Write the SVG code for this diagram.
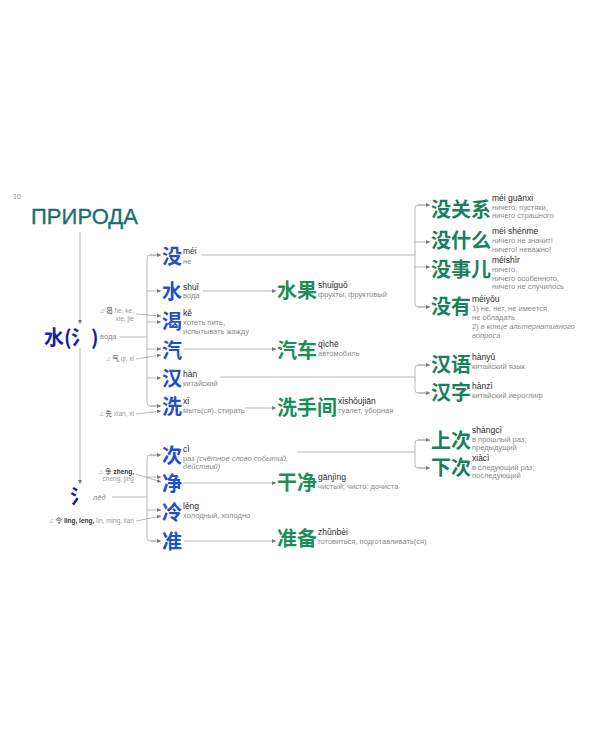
<svg xmlns="http://www.w3.org/2000/svg" width="600" height="750" viewBox="0 0 600 750">
<style>
.cj{font-family:"Noto Sans CJK SC",sans-serif;font-size:20px;font-weight:700}
.c1{fill:#2350c8}
.c2{fill:#1a8f5a}
.c3{fill:#1a7f5c}
.c0{fill:#1c1c9c}
.py{font-family:"Liberation Sans","Noto Sans",sans-serif;font-size:8.5px;fill:#2a2a2a}
.ru{font-family:"Liberation Sans","Noto Sans",sans-serif;font-size:7.5px;fill:#8a8a8a}
.it{font-style:italic}
.nt{font-family:"Liberation Sans","Noto Sans","Noto Sans CJK SC",sans-serif;font-size:6.5px;fill:#999;text-anchor:end}
.nk{fill:#444}
.nb{fill:#333;font-weight:bold}
.ln{stroke:#9a9a9a;stroke-width:0.7;fill:none}
.ar{marker-end:url(#a)}
</style>
<defs>
<marker id="a" viewBox="0 0 6 6" refX="6" refY="3" markerWidth="4" markerHeight="4" markerUnits="userSpaceOnUse" orient="auto">
<path d="M0,0 L6,3 L0,6 z" fill="#777"/>
</marker>
</defs>
<rect width="600" height="750" fill="#fff"/>
<text x="13" y="199" class="ru" style="font-size:7px">10</text>
<g id="title"><text x="31" y="224" style="font-family:'Liberation Sans',sans-serif;font-size:22px;fill:#1b6e6e;stroke:#1b6e6e;stroke-width:0.35" textLength="107">ПРИРОДА</text></g>

<g id="connectors">
<path class="ln ar" d="M80,232 V324"/>
<path class="ln ar" d="M80,348 V484"/>
<path class="ln" d="M120,337 H147"/>
<path class="ln" d="M160,255 H150 Q147,255 147,258 V403 Q147,406 150,406 H160"/>
<path class="ln ar" d="M150,255 H161"/>
<path class="ln ar" d="M147,291 H161"/>
<path class="ln ar" d="M147,322 H161"/>
<path class="ln ar" d="M147,349 H161"/>
<path class="ln ar" d="M147,378 H161"/>
<path class="ln ar" d="M150,406 H161"/>
<path class="ln ar" d="M136,314 L161,316"/>
<path class="ln ar" d="M136,359 L161,355"/>
<path class="ln ar" d="M136,414 L161,411"/>
<path class="ln" d="M112,497 H147"/>
<path class="ln" d="M160,455 H150 Q147,455 147,458 V538 Q147,541 150,541 H160"/>
<path class="ln ar" d="M150,455 H161"/>
<path class="ln ar" d="M147,477 H161"/>
<path class="ln ar" d="M147,510 H161"/>
<path class="ln ar" d="M150,541 H161"/>
<path class="ln ar" d="M136,474 L161,482"/>
<path class="ln ar" d="M136,521 L161,516"/>
<path class="ln ar" d="M203,291 H276"/>
<path class="ln ar" d="M184,349 H276"/>
<path class="ln ar" d="M245,408 H276"/>
<path class="ln ar" d="M184,483 H276"/>
<path class="ln ar" d="M184,541 H276"/>
<path class="ln" d="M202,255 H415"/>
<path class="ln" d="M428,205 H418 Q415,205 415,208 V304 Q415,307 418,307 H428"/>
<path class="ln ar" d="M418,205 H430"/>
<path class="ln ar" d="M415,242 H430"/>
<path class="ln ar" d="M415,267 H430"/>
<path class="ln ar" d="M418,307 H430"/>
<path class="ln" d="M220,377 H415"/>
<path class="ln" d="M428,365 H418 Q415,365 415,368 V390 Q415,393 418,393 H428"/>
<path class="ln ar" d="M418,365 H430"/>
<path class="ln ar" d="M418,393 H430"/>
<path class="ln" d="M297,452 H415"/>
<path class="ln" d="M428,440 H418 Q415,440 415,443 V465 Q415,468 418,468 H428"/>
<path class="ln ar" d="M418,440 H430"/>
<path class="ln ar" d="M418,468 H430"/>
</g>

<g id="n-shui-root"><text y="345" class="cj c0"><tspan x="44">水</tspan><tspan x="64">(</tspan><tspan x="71">氵</tspan><tspan x="91">)</tspan></text><text x="100" y="339" class="ru">вода</text></g>
<g id="n-bing-root"><text x="70" y="504" class="cj c0">氵</text><text x="93" y="500" class="ru it">лёд</text></g>

<g id="notes">
<text x="134" y="313" class="nt">♫ <tspan class="nk">曷</tspan> he, ke,</text>
<text x="134" y="320.5" class="nt">xie, jie</text>
<text x="134" y="361" class="nt">♫ <tspan class="nk">气</tspan> qi, xi</text>
<text x="134" y="416" class="nt">♫ <tspan class="nk">先</tspan> xian, xi</text>
<text x="134" y="474" class="nt">♫ <tspan class="nk">争</tspan> <tspan class="nb">zheng,</tspan></text>
<text x="134" y="481" class="nt">cheng, jing</text>
<text x="134" y="523" class="nt">♫ <tspan class="nk">令</tspan> <tspan class="nb">ling, leng,</tspan> lin, ming, lian</text>
</g>

<g id="n-mei"><text x="162" y="264" class="cj c1">没</text><text x="183" y="254" class="py">méi</text><text x="183" y="264" class="ru">не</text></g>
<g id="n-shui"><text x="162" y="299" class="cj c1">水</text><text x="183" y="289.5" class="py">shuǐ</text><text x="183" y="297.5" class="ru">вода</text></g>
<g id="n-ke"><text x="162" y="329" class="cj c1">渴</text><text x="183" y="316" class="py">kě</text><text x="183" y="325" class="ru">хотеть пить,</text><text x="183" y="334" class="ru">испытывать жажду</text></g>
<g id="n-qi"><text x="162" y="358" class="cj c1">汽</text></g>
<g id="n-han"><text x="162" y="386" class="cj c1">汉</text><text x="183" y="377" class="py">hàn</text><text x="183" y="385.5" class="ru">китайский</text></g>
<g id="n-xi"><text x="162" y="414" class="cj c1">洗</text><text x="183" y="404" class="py">xǐ</text><text x="183" y="413" class="ru">мыть(ся), стирать</text></g>
<g id="n-ci"><text x="162" y="463" class="cj c1">次</text><text x="183" y="452" class="py">cì</text><text x="183" y="461" class="ru">раз <tspan class="it">(счётное слово событий,</tspan></text><text x="183" y="469" class="ru it">действий)</text></g>
<g id="n-jing"><text x="162" y="490.5" class="cj c1">净</text></g>
<g id="n-leng"><text x="162" y="519.5" class="cj c1">冷</text><text x="183" y="509" class="py">lěng</text><text x="183" y="518" class="ru">холодный, холодно</text></g>
<g id="n-zhun"><text x="162" y="549" class="cj c1">准</text></g>

<g id="n-shuiguo"><text x="277" y="298" class="cj c2">水果</text><text x="318" y="288" class="py">shuǐguǒ</text><text x="318" y="296.5" class="ru">фрукты; фруктовый</text></g>
<g id="n-qiche"><text x="277" y="358" class="cj c2">汽车</text><text x="318" y="347" class="py">qìchē</text><text x="318" y="355.5" class="ru">автомобиль</text></g>
<g id="n-xishoujian"><text x="277" y="415" class="cj c2">洗手间</text><text x="338" y="404" class="py">xǐshǒujiān</text><text x="338" y="413" class="ru">туалет, уборная</text></g>
<g id="n-ganjing"><text x="277" y="490" class="cj c2">干净</text><text x="318" y="480" class="py">gānjìng</text><text x="318" y="489" class="ru">чистый; чисто; дочиста</text></g>
<g id="n-zhunbei"><text x="277" y="546" class="cj c2">准备</text><text x="318" y="535" class="py">zhǔnbèi</text><text x="318" y="544" class="ru">готовиться, подготавливать(ся)</text></g>

<g id="n-meiguanxi"><text x="431" y="217" class="cj c3">没关系</text><text x="492" y="201" class="py">méi guānxi</text><text x="492" y="209.5" class="ru">ничего, пустяки,</text><text x="492" y="218" class="ru">ничего страшного</text></g>
<g id="n-meishenme"><text x="431" y="247.5" class="cj c3">没什么</text><text x="492" y="233.5" class="py">méi shénme</text><text x="492" y="243" class="ru">ничего не значит!</text><text x="492" y="252" class="ru">ничего! неважно!</text></g>
<g id="n-meishir"><text x="431" y="276.5" class="cj c3">没事儿</text><text x="492" y="263" class="py">méishìr</text><text x="492" y="271.5" class="ru">ничего,</text><text x="492" y="280.5" class="ru">ничего особенного,</text><text x="492" y="289" class="ru">ничего не случилось</text></g>
<g id="n-meiyou"><text x="431" y="314" class="cj c3">没有</text><text x="472" y="302" class="py">méiyǒu</text><text x="472" y="311" class="ru">1) не, нет, не имеется,</text><text x="472" y="320" class="ru">не обладать</text><text x="472" y="329" class="ru">2) <tspan class="it">в конце альтернативного</tspan></text><text x="472" y="338" class="ru it">вопроса</text></g>
<g id="n-hanyu"><text x="431" y="372" class="cj c3">汉语</text><text x="472" y="360" class="py">hànyǔ</text><text x="472" y="369" class="ru">китайский язык</text></g>
<g id="n-hanzi"><text x="431" y="400" class="cj c3">汉字</text><text x="472" y="389" class="py">hànzì</text><text x="472" y="397.5" class="ru">китайский иероглиф</text></g>
<g id="n-shangci"><text x="431" y="448" class="cj c3">上次</text><text x="472" y="433" class="py">shàngcì</text><text x="472" y="441.5" class="ru">в прошлый раз;</text><text x="472" y="450" class="ru">предыдущий</text></g>
<g id="n-xiaci"><text x="431" y="475" class="cj c3">下次</text><text x="472" y="461" class="py">xiàcì</text><text x="472" y="469.5" class="ru">в следующий раз;</text><text x="472" y="478" class="ru">последующий</text></g>
</svg>
